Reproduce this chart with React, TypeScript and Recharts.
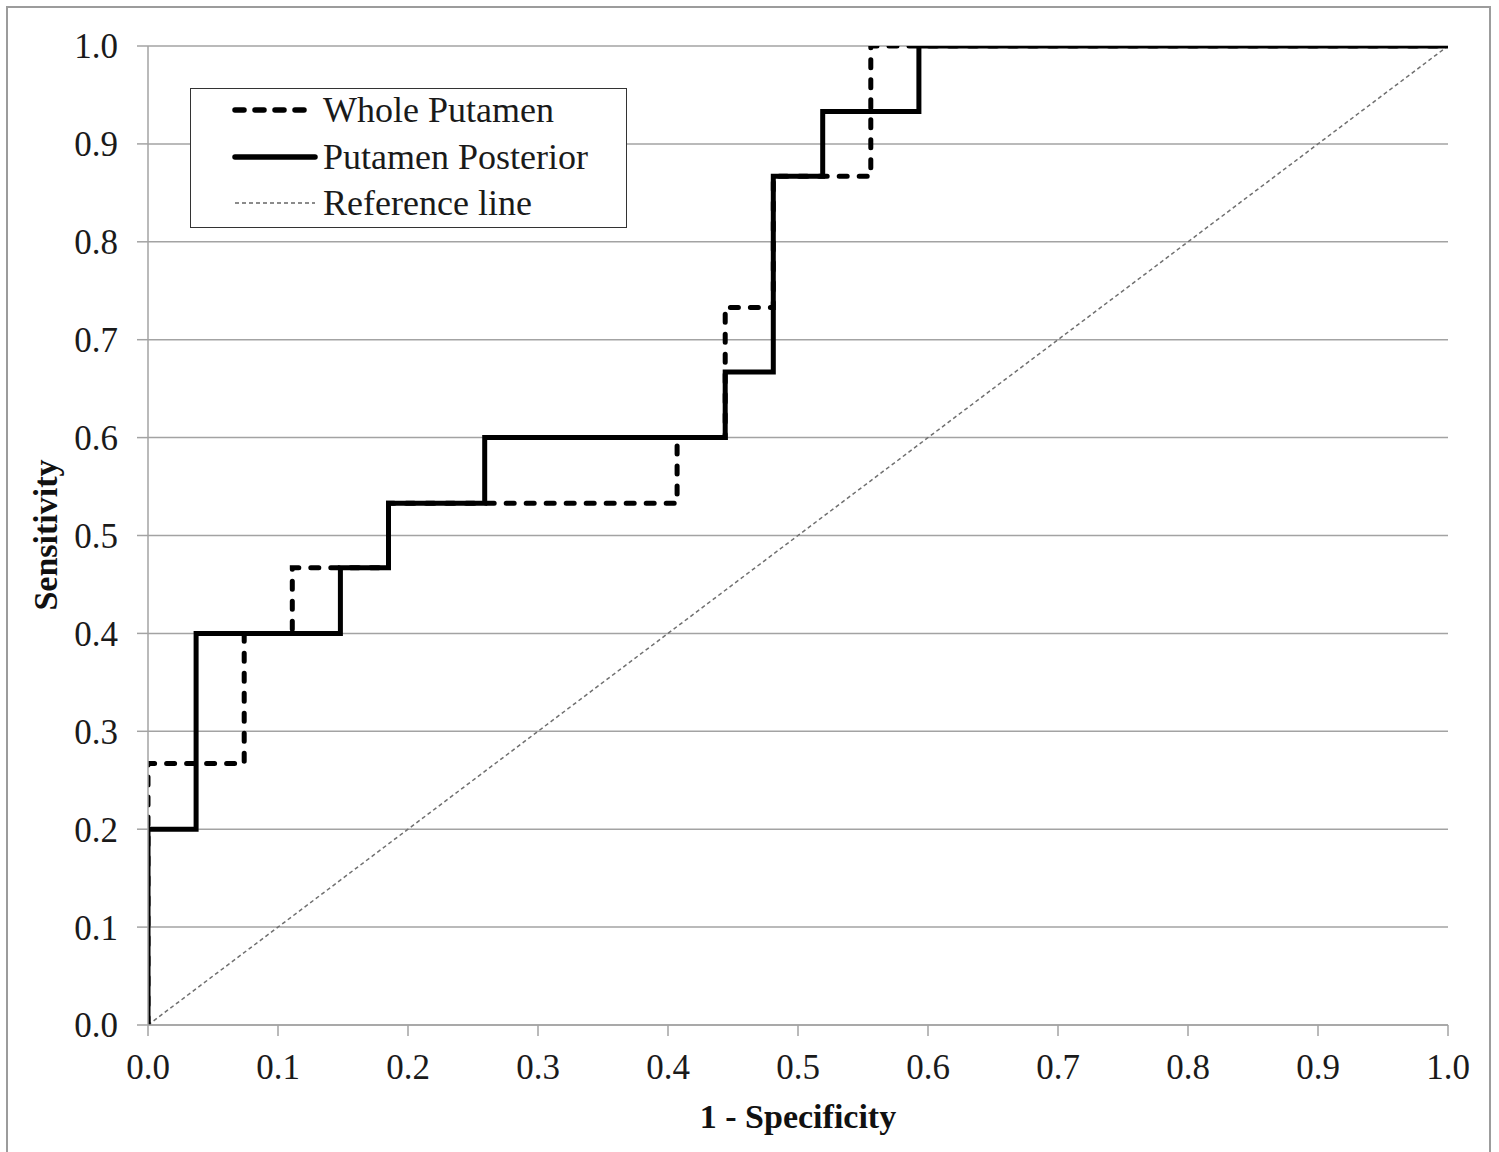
import { LineChart, Line, XAxis, YAxis, CartesianGrid } from 'recharts';

// ROC points (1 - specificity, sensitivity)
const wholePutamenX = [0, 0, 0.074, 0.111, 0.185, 0.407, 0.444, 0.481, 0.556, 1];
const wholePutamenY = [0, 0.267, 0.4, 0.467, 0.533, 0.6, 0.733, 0.867, 1, 1];

const posteriorX = [0, 0, 0.037, 0.148, 0.185, 0.259, 0.444, 0.481, 0.519, 0.593, 1];
const posteriorY = [0, 0.2, 0.4, 0.467, 0.533, 0.6, 0.667, 0.867, 0.933, 1, 1];

const referenceX = [0, 1];
const referenceY = [0, 1];

const axisTicks = [0, 0.1, 0.2, 0.3, 0.4, 0.5, 0.6, 0.7, 0.8, 0.9, 1.0];

const toPoints = (xs: number[], ys: number[]) => xs.map((x, i) => ({ x, y: ys[i] }));

const wholeData = toPoints(wholePutamenX, wholePutamenY);
const posteriorData = toPoints(posteriorX, posteriorY);
const referenceData = toPoints(referenceX, referenceY);

const FONT = '"Liberation Serif", "Times New Roman", serif';
const GRAY = '#a3a3a3';

const tickStyle = { fontFamily: FONT, fontSize: 35, fill: '#1a1a1a' };

function LegendBox() {
  const rows = [
    { name: 'Whole Putamen', dash: '9 11', width: 5.5, color: '#000', cap: 'round' as const },
    { name: 'Putamen Posterior', dash: undefined, width: 5.5, color: '#000', cap: 'round' as const },
    { name: 'Reference line', dash: '4 3', width: 1.5, color: '#666', cap: 'butt' as const },
  ];
  return (
    <div
      style={{
        position: 'absolute',
        left: 190,
        top: 88,
        width: 437,
        height: 140,
        border: '1.5px solid #333',
        background: '#fff',
        boxSizing: 'border-box',
        fontFamily: FONT,
        fontSize: 36,
        color: '#1a1a1a',
      }}
    >
      {rows.map((r) => (
        <div key={r.name} style={{ display: 'flex', alignItems: 'center', height: 46.5, marginTop: r.name === 'Whole Putamen' ? -2 : 0 }}>
          <svg width={130} height={20} style={{ flex: 'none' }}>
            <line
              x1={44}
              x2={124}
              y1={10}
              y2={10}
              stroke={r.color}
              strokeWidth={r.width}
              strokeDasharray={r.dash}
              strokeLinecap={r.cap}
            />
          </svg>
          <span style={{ marginLeft: 2, whiteSpace: 'nowrap', lineHeight: 1 }}>{r.name}</span>
        </div>
      ))}
    </div>
  );
}

export default function App() {
  return (
    <div style={{ position: 'absolute', left: 0, top: 0, width: 1499, height: 1152, overflow: 'hidden', background: '#fff' }}>
      <div
        style={{
          position: 'absolute',
          left: 6,
          top: 6,
          width: 1485,
          height: 1160,
          borderLeft: '2px solid #9c9c9c',
          borderTop: '2px solid #9c9c9c',
          borderRight: '2px solid #9c9c9c',
          boxSizing: 'border-box',
        }}
      />
      <div style={{ position: 'absolute', left: 0, top: 0 }}>
        <LineChart width={1499} height={1150} margin={{ top: 46, right: 51, left: 48, bottom: 65 }}>
          <CartesianGrid horizontal vertical={false} stroke={GRAY} strokeWidth={1.5} />
          <XAxis
            type="number"
            dataKey="x"
            domain={[0, 1]}
            ticks={axisTicks}
            tickFormatter={(v: number) => v.toFixed(1)}
            tick={tickStyle}
            tickSize={11}
            tickMargin={18}
            height={60}
            stroke={GRAY}
            strokeWidth={1.5}
            allowDataOverflow
            label={{
              value: '1 - Specificity',
              position: 'bottom',
              offset: 19,
              style: { fontFamily: FONT, fontSize: 34, fontWeight: 'bold', fill: '#111' },
            }}
          />
          <YAxis
            type="number"
            dataKey="y"
            domain={[0, 1]}
            ticks={axisTicks}
            tickFormatter={(v: number) => v.toFixed(1)}
            tick={tickStyle}
            tickSize={11}
            tickMargin={19}
            width={100}
            stroke={GRAY}
            strokeWidth={1.5}
            allowDataOverflow
            label={{
              content: () => (
                <text
                  x={45}
                  y={535}
                  transform="rotate(-90 45 535)"
                  textAnchor="middle"
                  dominantBaseline="central"
                  style={{ fontFamily: FONT, fontSize: 34, fontWeight: 'bold', fill: '#111' }}
                >
                  Sensitivity
                </text>
              ),
            }}
          />
          <Line
            data={referenceData}
            dataKey="y"
            name="Reference line"
            type="linear"
            stroke="#707070"
            strokeWidth={1.5}
            strokeDasharray="4 3"
            dot={false}
            activeDot={false}
            isAnimationActive={false}
          />
          <Line
            data={wholeData}
            dataKey="y"
            name="Whole Putamen"
            type="stepAfter"
            stroke="#000"
            strokeWidth={5}
            strokeDasharray="8 12"
            strokeLinecap="round"
            dot={false}
            activeDot={false}
            isAnimationActive={false}
          />
          <Line
            data={posteriorData}
            dataKey="y"
            name="Putamen Posterior"
            type="stepAfter"
            stroke="#000"
            strokeWidth={5}
            strokeLinecap="square"
            dot={false}
            activeDot={false}
            isAnimationActive={false}
          />
        </LineChart>
      </div>
      <LegendBox />
    </div>
  );
}
